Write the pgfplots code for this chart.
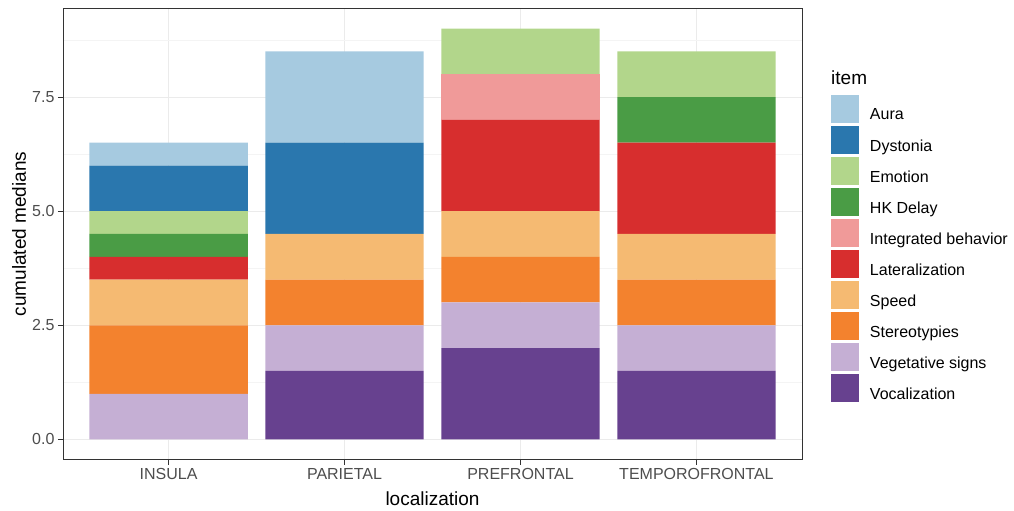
\documentclass[border=0pt]{standalone}
\usepackage{fontspec}
\setmainfont{Liberation Sans}
\usepackage{pgfplots}
\usepackage{pgfplotstable}
\pgfplotsset{compat=1.18}

\definecolor{cAura}{HTML}{A6CAE0}
\definecolor{cDyst}{HTML}{2A77AE}
\definecolor{cEmo}{HTML}{B2D68B}
\definecolor{cHK}{HTML}{4A9C45}
\definecolor{cInt}{HTML}{F09A99}
\definecolor{cLat}{HTML}{D72E2E}
\definecolor{cSpeed}{HTML}{F5BA72}
\definecolor{cStereo}{HTML}{F3822E}
\definecolor{cVeg}{HTML}{C5AFD4}
\definecolor{cVoc}{HTML}{67418F}
\definecolor{gridmaj}{HTML}{EBEBEB}
\definecolor{gridmin}{HTML}{F4F4F4}
\definecolor{tickgray}{HTML}{4D4D4D}
\definecolor{frame}{HTML}{333333}

% x: 1 INSULA, 2 PARIETAL, 3 PREFRONTAL, 4 TEMPOROFRONTAL
\pgfplotstableread{
x voc veg stereo speed lat integ hk emo dyst aura
1 0   1   1.5    1     0.5 0     0.5 0.5 1    0.5
2 1.5 1   1      1     0   0     0   0   2    2
3 2   1   1      1     2   1     0   1   0    0
4 1.5 1   1      1     2   0     1   1   0    0
}\medians

\begin{document}
\begin{tikzpicture}[x=1pt,y=1pt]
\useasboundingbox (0,0) rectangle (1014,511);
\begin{axis}[
  name=main,
  at={(63pt,51pt)}, anchor=south west,
  scale only axis, width=739pt, height=452pt,
  ybar stacked, bar width=0.9,
  every axis plot post/.append style={
    legend image code/.code={\fill[##1] (0pt,-8pt) rectangle (28pt,20pt);}},
  xmin=0.4, xmax=4.6, ymin=-0.45, ymax=9.45,
  xtick={1,2,3,4},
  xticklabels={INSULA,PARIETAL,PREFRONTAL,TEMPOROFRONTAL},
  ytick={0,2.5,5,7.5},
  yticklabels={0.0,2.5,5.0,7.5},
  minor ytick={1.25,3.75,6.25,8.75},
  grid=both,
  major grid style={color=gridmaj, line width=1pt},
  minor grid style={color=gridmin, line width=0.6pt},
  axis line style={color=frame, line width=1pt},
  tick style={color=frame, line width=1pt},
  tick align=outside, tick pos=left,
  major tick length=5pt, minor tick length=0pt,
  xticklabel style={font=\fontsize{16}{19}\selectfont, text=tickgray},
  yticklabel style={font=\fontsize{16}{19}\selectfont, text=tickgray},
  xlabel={localization},
  xlabel style={font=\fontsize{19}{22}\selectfont,
    at={(axis description cs:0.5,-0.100)}, anchor=base},
  ylabel={cumulated medians},
  ylabel style={font=\fontsize{19}{22}\selectfont,
    at={(axis description cs:-0.0595,0.5)}, anchor=center},
  reverse legend,
  legend cell align=left,
  legend style={draw=none, fill=none, inner sep=0pt, outer sep=0pt,
    at={(axis description cs:1.0392,0.8075)}, anchor=north west,
    row sep=3pt, column sep=11pt,
    nodes={inner sep=0pt},
    font=\fontsize{16}{19}\selectfont},
]
\addplot[fill=cVoc, draw=none] table[x=x, y=voc] {\medians};
\addlegendentry{Vocalization}
\addplot[fill=cVeg, draw=none] table[x=x, y=veg] {\medians};
\addlegendentry{Vegetative signs}
\addplot[fill=cStereo, draw=none] table[x=x, y=stereo] {\medians};
\addlegendentry{Stereotypies}
\addplot[fill=cSpeed, draw=none] table[x=x, y=speed] {\medians};
\addlegendentry{Speed}
\addplot[fill=cLat, draw=none] table[x=x, y=lat] {\medians};
\addlegendentry{Lateralization}
\addplot[fill=cInt, draw=none] table[x=x, y=integ] {\medians};
\addlegendentry{Integrated behavior}
\addplot[fill=cHK, draw=none] table[x=x, y=hk] {\medians};
\addlegendentry{HK Delay}
\addplot[fill=cEmo, draw=none] table[x=x, y=emo] {\medians};
\addlegendentry{Emotion}
\addplot[fill=cDyst, draw=none] table[x=x, y=dyst] {\medians};
\addlegendentry{Dystonia}
\addplot[fill=cAura, draw=none] table[x=x, y=aura] {\medians};
\addlegendentry{Aura}
\end{axis}
% legend title
\node[anchor=base west, inner sep=0pt, font=\fontsize{19}{22}\selectfont]
  at (831,426) {item};
\end{tikzpicture}
\end{document}
